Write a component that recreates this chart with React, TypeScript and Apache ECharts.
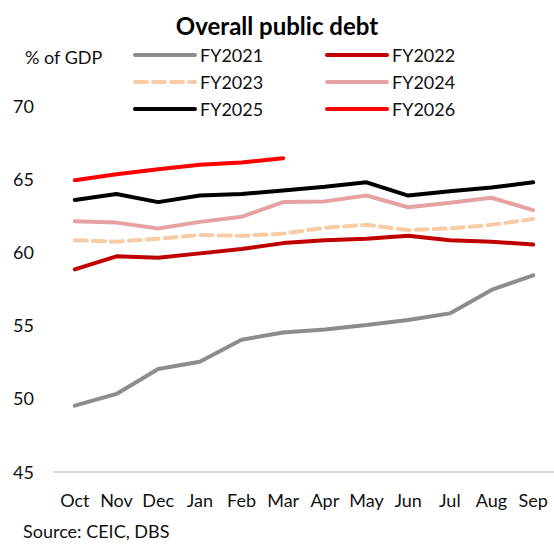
import React, { useEffect, useRef } from "react";
import * as echarts from "echarts";

const months = ["Oct", "Nov", "Dec", "Jan", "Feb", "Mar", "Apr", "May", "Jun", "Jul", "Aug", "Sep"];
const fy2021 = [49.5, 50.3, 52.0, 52.5, 54.0, 54.5, 54.7, 55.0, 55.35, 55.8, 57.4, 58.4];
const fy2022 = [58.8, 59.7, 59.6, 59.9, 60.2, 60.6, 60.8, 60.9, 61.1, 60.8, 60.7, 60.5];
const fy2023 = [60.8, 60.7, 60.9, 61.15, 61.1, 61.25, 61.65, 61.85, 61.5, 61.6, 61.85, 62.25];
const fy2024 = [62.1, 62.0, 61.6, 62.05, 62.4, 63.4, 63.45, 63.85, 63.05, 63.35, 63.7, 62.85];
const fy2025 = [63.55, 63.95, 63.4, 63.85, 63.95, 64.2, 64.45, 64.75, 63.85, 64.15, 64.4, 64.75];
const fy2026 = [64.9, 65.3, 65.65, 65.95, 66.1, 66.4];
const yTicks = { min: 45, max: 70, interval: 5 };

const FONT = "Lato, 'Noto Sans', sans-serif";
const TXT = "#111";

export default function App() {
  const ref = useRef<HTMLDivElement>(null);
  useEffect(() => {
    document.body.style.margin = "0";
    const chart = echarts.init(ref.current!, null, { renderer: "svg" });
    const mk = (name: string, data: number[], color: string, dashed = false) => ({
      name,
      type: "line",
      data,
      symbol: "none",
      smooth: false,
      lineStyle: { color, width: 4, type: dashed ? [12, 6] : "solid", cap: "round" },
      itemStyle: { color },
    });
    const legendBase = {
      orient: "vertical",
      top: 46,
      padding: 0,
      itemWidth: 60,
      itemHeight: 14,
      itemGap: 9,
      itemStyle: { opacity: 0 },
      lineStyle: { width: 4 },
      textStyle: { fontFamily: FONT, fontSize: 18, color: TXT },
    };
    chart.setOption({
      animation: false,
      textStyle: { fontFamily: FONT },
      title: [
        {
          text: "Overall public debt",
          left: "center",
          top: 8,
          textStyle: { fontFamily: FONT, fontWeight: "bold", fontSize: 24, color: "#000" },
        },
        {
          text: "% of GDP",
          left: 20,
          top: 43,
          textStyle: { fontFamily: FONT, fontWeight: "normal", fontSize: 18, color: TXT },
        },
        {
          text: "Source: CEIC, DBS",
          left: 23,
          top: 522,
          padding: 0,
          textStyle: { fontFamily: FONT, fontWeight: "normal", fontSize: 18, lineHeight: 18, color: TXT },
        },
      ],
      legend: [
        { ...legendBase, left: 133, data: ["FY2021", "FY2023", "FY2025"] },
        { ...legendBase, left: 325, data: ["FY2022", "FY2024", "FY2026"] },
      ],
      grid: { left: 54, right: 0, top: 105.5, bottom: 72.5, containLabel: false },
      xAxis: {
        type: "category",
        data: months,
        boundaryGap: true,
        axisLine: { lineStyle: { color: "#d9d9d9", width: 2 } },
        axisTick: { show: false },
        axisLabel: { fontFamily: FONT, fontSize: 18, color: TXT, margin: 19, interval: 0 },
      },
      yAxis: {
        type: "value",
        min: yTicks.min,
        max: yTicks.max,
        interval: yTicks.interval,
        axisLine: { show: false },
        axisTick: { show: false },
        splitLine: { show: false },
        axisLabel: { fontFamily: FONT, fontSize: 18, color: TXT, margin: 20 },
      },
      series: [
        mk("FY2021", fy2021, "#8c8c8c"),
        mk("FY2022", fy2022, "#c00000"),
        mk("FY2023", fy2023, "#f8cba7", true),
        mk("FY2024", fy2024, "#e6a2a2"),
        mk("FY2025", fy2025, "#000000"),
        mk("FY2026", fy2026, "#ff0000"),
      ],
    });
    return () => chart.dispose();
  }, []);
  return <div ref={ref} style={{ width: 554, height: 544 }} />;
}
